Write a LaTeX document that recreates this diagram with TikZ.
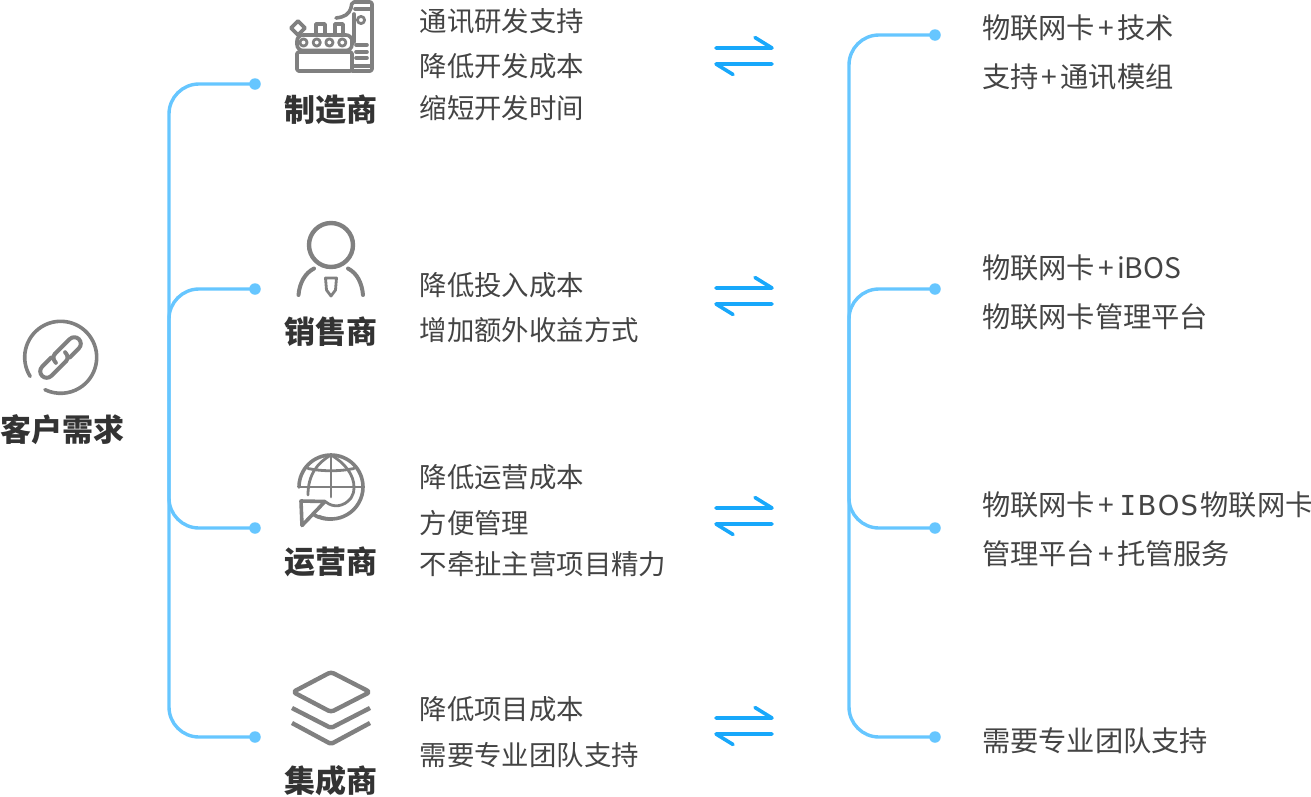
\documentclass[tikz,border=0pt]{standalone}
\usepackage{fontspec}
\setmainfont{Noto Sans CJK SC}
\newfontfamily\latinb{DejaVu Sans}
\newfontfamily\latini{DejaVu Sans Mono}
\newcommand{\plusgap}{\hspace{3.2pt}+\hspace{3pt}}
\newcommand{\capIBOS}{\hspace{2.5pt}{\latini\fontsize{27.5}{30}\selectfont I}\hspace{1.5pt}{\latinb\fontsize{27.5}{30}\selectfont B\hspace{1.5pt}O\hspace{1pt}S}\hspace{2.5pt}}
\definecolor{treeblue}{HTML}{66C6FF}
\definecolor{arrowblue}{HTML}{18A8FB}
\definecolor{icongray}{HTML}{808080}
\definecolor{txt}{HTML}{444444}
\definecolor{ttl}{HTML}{333333}
\tikzset{
  x=1pt,y=-1pt,
  treeline/.style={draw=treeblue,line width=3.4pt,rounded corners=30pt},
  dotnode/.style={circle,fill=treeblue,minimum size=11.5pt,inner sep=0pt},
  swap/.style={draw=arrowblue,line width=3.6pt,line cap=round,line join=round},
  icon/.style={draw=icongray,line width=3.6pt,line join=round,line cap=round},
  thinicon/.style={draw=icongray,line width=2.8pt,line join=round,line cap=round},
  lefttext/.style={anchor=west,inner sep=0pt,text=txt,font=\fontsize{27.4}{30}\selectfont},
  righttext/.style={anchor=west,inner sep=0pt,text=txt,font=\fontsize{28.25}{30}\selectfont},
  titletext/.style={anchor=center,inner sep=0pt,text=ttl,font=\fontsize{31}{34}\selectfont\bfseries},
  pics/swaparrows/.style={code={
    \coordinate (-a) at (716,0);\coordinate (-b) at (772,0);
    \coordinate (-c) at (755,-10.5);\coordinate (-d) at (716,16);
    \coordinate (-e) at (772,16);\coordinate (-f) at (733,26.5);
    \draw[swap] (-a) -- (-b) -- (-c);
    \draw[swap] (-e) -- (-d) -- (-f);
  }}
}
\begin{document}
\begin{tikzpicture}
\useasboundingbox (0,0) rectangle (1311,796);
% left tree
\node[dotnode] (l1) at (255,84) {};
\node[dotnode] (l2) at (255,289) {};
\node[dotnode] (l3) at (255,528) {};
\node[dotnode] (l4) at (255,737) {};
\coordinate (lt) at (169,400);
\draw[treeline] (l1.center) -| (lt) |- (l4.center);
\draw[treeline] (l2.center) -| (lt);
\draw[treeline] (l3.center) -| (lt);
% right tree
\node[dotnode] (r1) at (935,35) {};
\node[dotnode] (r2) at (935,289) {};
\node[dotnode] (r3) at (935,528) {};
\node[dotnode] (r4) at (935,737) {};
\coordinate (rt) at (849,400);
\draw[treeline] (r1.center) -| (rt) |- (r4.center);
\draw[treeline] (r2.center) -| (rt);
\draw[treeline] (r3.center) -| (rt);
% swap arrows
\pic (s1) at (0,48) {swaparrows};
\pic (s2) at (0,288) {swaparrows};
\pic (s3) at (0,508) {swaparrows};
\pic (s4) at (0,718) {swaparrows};
% titles
\node[titletext] (t0) at (62,430) {客户需求};
\node[titletext] (t1) at (331,110) {制造商};
\node[titletext] (t2) at (331,332) {销售商};
\node[titletext] (t3) at (331,562) {运营商};
\node[titletext] (t4) at (331,781) {集成商};
% left texts
\node[lefttext] (a1) at (419.5,21) {通讯研发支持};
\node[lefttext] (a2) at (419.5,66) {降低开发成本};
\node[lefttext] (a3) at (419.5,108) {缩短开发时间};
\node[lefttext] (b1) at (419.5,285) {降低投入成本};
\node[lefttext] (b2) at (419.5,330) {增加额外收益方式};
\node[lefttext] (c1) at (419.5,477) {降低运营成本};
\node[lefttext] (c2) at (419.5,523) {方便管理};
\node[lefttext] (c3) at (419.5,564) {不牵扯主营项目精力};
\node[lefttext] (d1) at (419.5,709) {降低项目成本};
\node[lefttext] (d2) at (419.5,755) {需要专业团队支持};
% right texts
\node[righttext] (e1) at (982,28) {物联网卡\plusgap 技术};
\node[righttext] (e2) at (982,77) {支持\plusgap 通讯模组};
\node[righttext] (f1) at (982,268) {物联网卡\plusgap iBOS};
\node[righttext] (f2) at (982,317) {物联网卡管理平台};
\node[righttext] (g1) at (982,505) {物联网卡\plusgap\capIBOS 物联网卡};
\node[righttext] (g2) at (982,554) {管理平台\plusgap 托管服务};
\node[righttext] (h1) at (982,741) {需要专业团队支持};
% link icon
\draw[icon] (60.7,357.3) ++(148:36) arc[start angle=148,end angle=476,radius=36];
\begin{scope}[rotate around={45:(60.5,357.5)}]
  \draw[icon,line width=4pt] (59,351) -- (80,351) arc[start angle=-90,end angle=90,radius=6.5] -- (67,364);
  \draw[icon,line width=4pt] (62,364) -- (41,364) arc[start angle=90,end angle=270,radius=6.5] -- (54,351);
  \draw[icon,line width=4pt] (59,351) .. controls (56,351) and (53.5,354) .. (53.5,358);
  \draw[icon,line width=4pt] (62,364) .. controls (65,364) and (67.5,361) .. (67.5,357);
\end{scope}
% factory icon
\draw[icon,rounded corners=1.5pt] (297,52) rectangle (352,71);
\draw[icon,rounded corners=6pt] (297,35) rectangle (352,50.5);
\foreach \cx in {303.5,316.7,329.4,342.3} \draw[thinicon] (\cx,42.5) circle[radius=3.6];
\draw[icon] (298,21) -- (305,28) -- (298,35) -- (291,28) -- cycle;
\draw[icon] (316,34) -- (316,24) -- (325,24) -- (325,34);
\draw[icon] (335,34) -- (335,24) -- (343,24) -- (343,34);
\draw[icon,rounded corners=2pt] (352,71) -- (372,71) -- (372,2) -- (352,2) -- (351,8);
\draw[icon] (351,8) .. controls (349,14) and (345,17) .. (336,18);
\draw[icon] (355,9) -- (372,9);
\draw[icon] (352,66) -- (372,66);
\draw[icon] (354,14) -- (354,42);
\draw[thinicon] (361,20) circle[radius=3.6];
\draw[icon] (356,45) -- (367,45);
\draw[icon] (356,52) -- (367,52);
\draw[icon] (356,58) -- (367,58);
% person icon
\draw[icon,line width=4.4pt] (331,245) circle[radius=22];
\draw[icon,line width=4pt] (314,268.5) .. controls (305,273) and (299.5,283) .. (298.5,295);
\draw[icon,line width=4pt] (348,268.5) .. controls (357,273) and (362,283) .. (363,295);
\draw[thinicon] (325.5,278) -- (336.5,278) -- (335.5,290) -- (331,296) -- (326.5,290) -- cycle;
% globe icon
\draw[icon] (299,487) arc[start angle=180,end angle=473,radius=32];
\draw[thinicon] (299,487) -- (363,487);
\draw[thinicon] (331,455) -- (331,497);
\draw[thinicon] (308,468.5) .. controls (322,471.5) and (340,471.5) .. (354,468.5);
\draw[thinicon] (331,455) .. controls (317,463) and (308,475) .. (308,495);
\draw[thinicon] (331,455) .. controls (345,463) and (354,475) .. (354,487) .. controls (354,492) and (353,495) .. (351,498);
\draw[thinicon] (326,502) .. controls (333,508) and (344,507) .. (351,498);
\draw[icon] (301,501) -- (325,501.5) -- (302,525.5) -- cycle;
\draw[icon] (313,514) .. controls (320,519) and (326,519) .. (331,519);
% stack icon
\draw[icon,line width=4.4pt,rounded corners=3pt] (331,672) -- (370,692) -- (331,712) -- (293,692) -- cycle;
\draw[icon,line width=4.4pt,line cap=butt,rounded corners=2pt] (292,708) -- (331,728) -- (370,708);
\draw[icon,line width=4.4pt,line cap=butt,rounded corners=2pt] (292,723) -- (331,744) -- (370,723);
\end{tikzpicture}
\end{document}
